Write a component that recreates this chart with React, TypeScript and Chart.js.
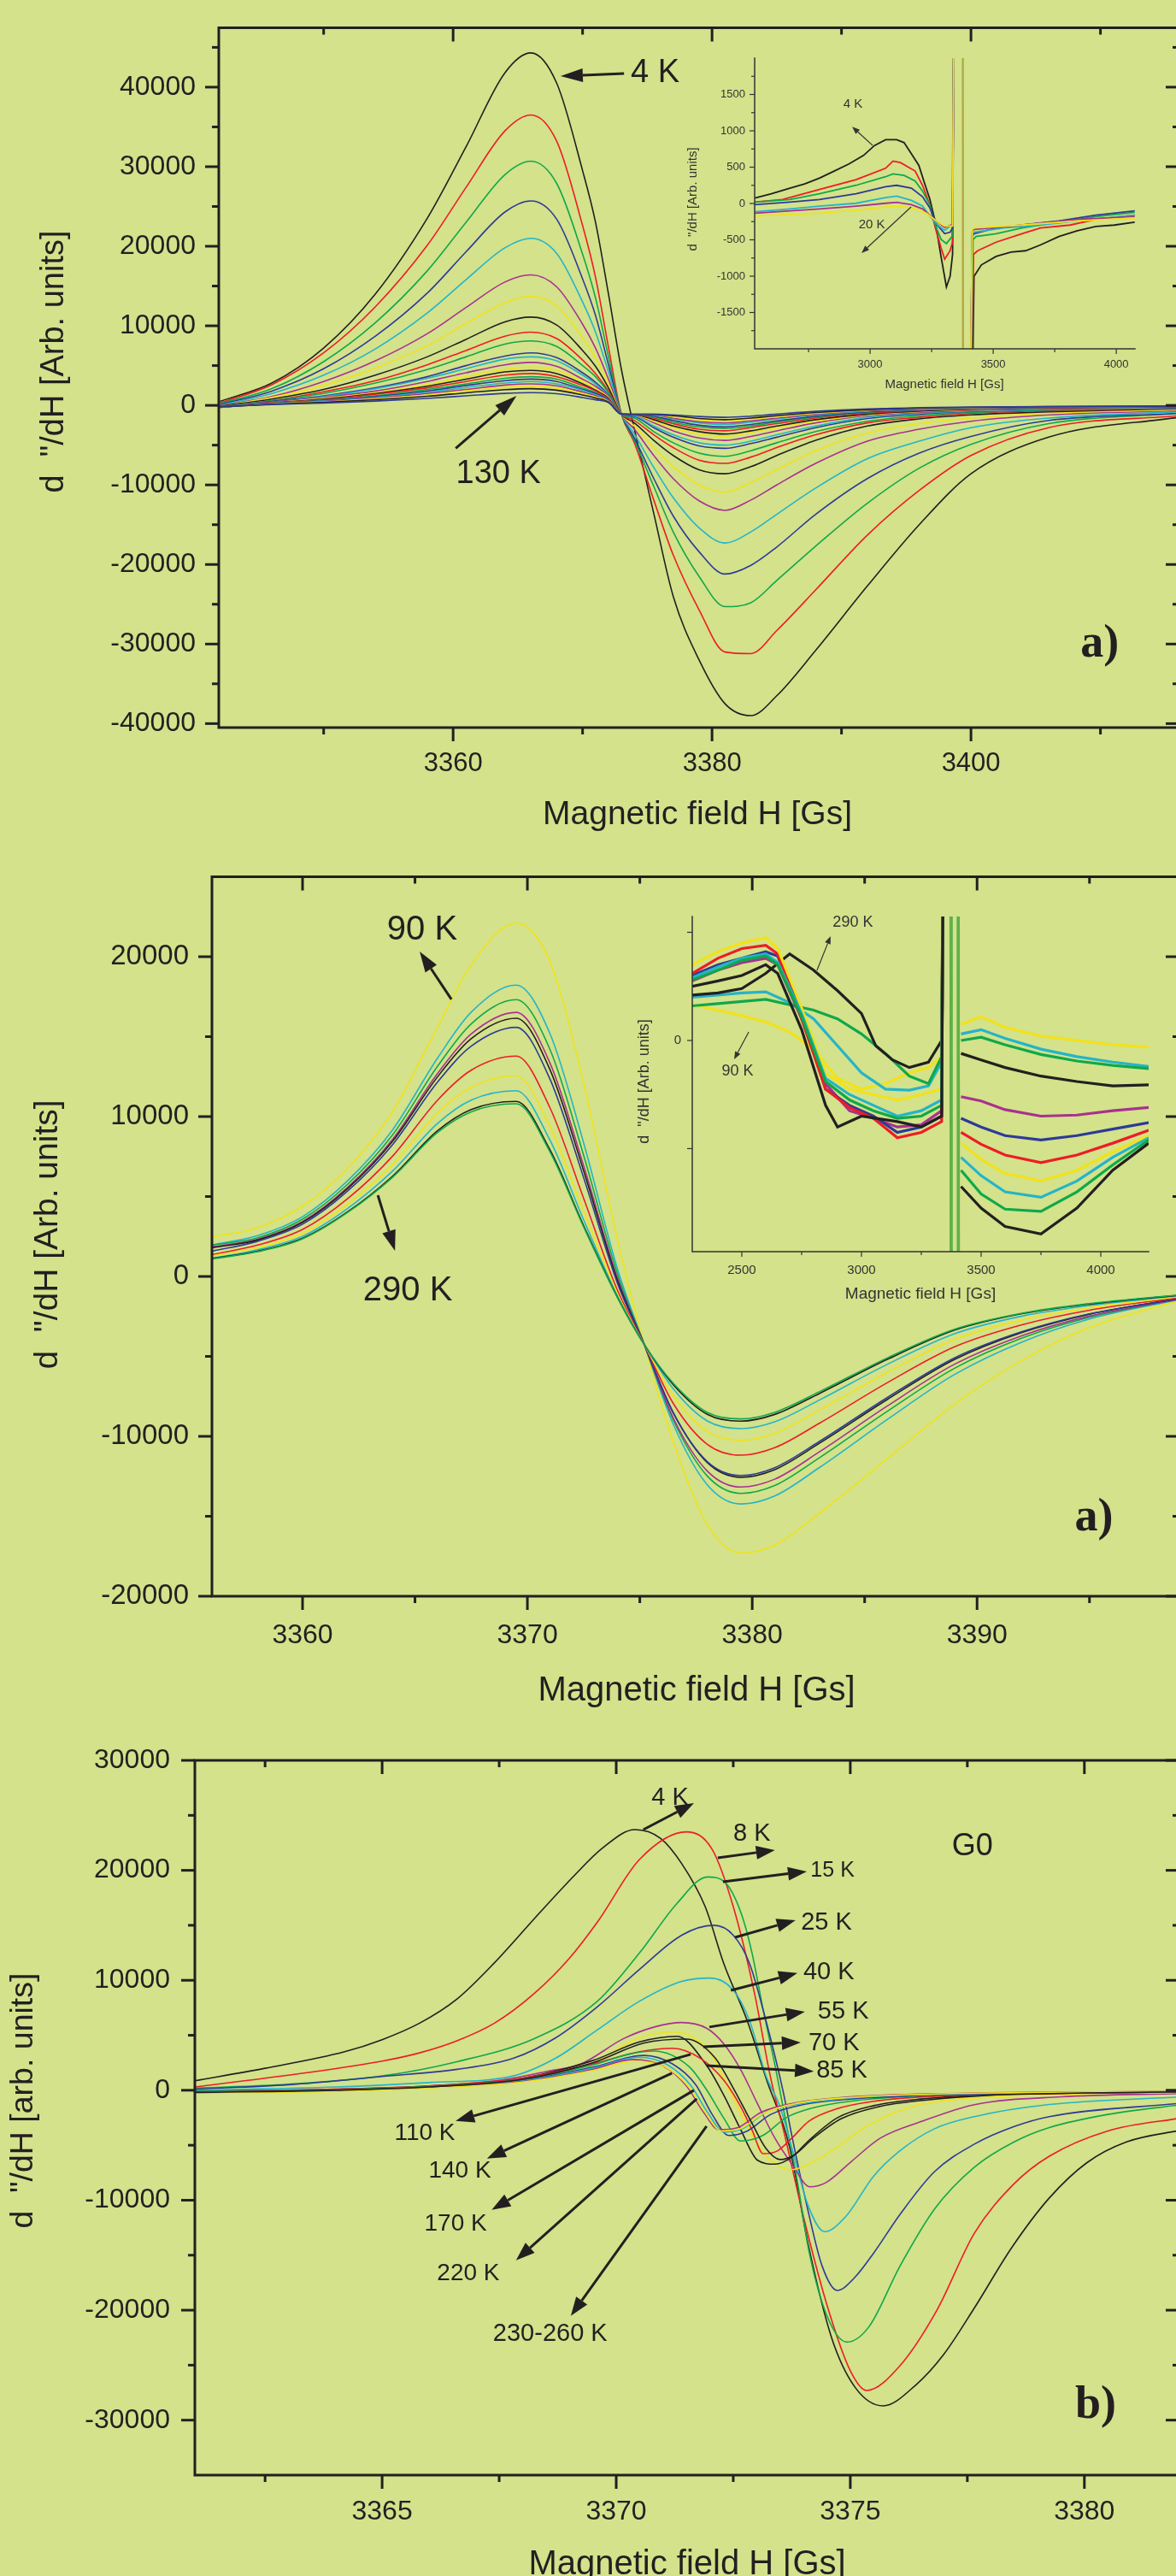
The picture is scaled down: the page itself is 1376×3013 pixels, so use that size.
import React, { useEffect, useRef } from 'react';
import { Chart, registerables } from 'chart.js';
Chart.register(...registerables);

type Pt = [number, number | null];

// ---------------- Panel 1 (a, upper) : shared field grid + 23 spectra 4 K ... 130 K
const X1 = [3342, 3346, 3350, 3354, 3358, 3361, 3364, 3366, 3368, 3370, 3371, 3372, 3373, 3374, 3375.5, 3377, 3379, 3381, 3383, 3385, 3388, 3392, 3396, 3400, 3406, 3416];
const a1_c01 = [500, 2800, 7200, 14000, 23500, 32500, 41800, 44300, 40500, 29500, 23000, 14000, 4500, -3000, -13600, -24000, -32000, -37500, -39000, -36500, -30800, -22700, -15000, -8600, -4000, -1500];
const a1_c02 = [300, 2600, 6600, 12400, 20100, 27400, 34500, 36500, 33200, 22600, 16100, 7300, -1100, -4700, -11900, -18800, -25700, -31000, -31200, -28300, -23200, -16300, -10700, -6300, -2800, -1300];
const a1_c03 = [200, 2100, 5500, 10400, 16900, 23000, 29000, 30700, 27900, 19000, 13500, 6100, -1100, -4400, -10200, -15900, -21500, -25300, -24800, -22000, -17700, -12300, -7900, -4900, -2300, -1000];
const a1_c04 = [100, 1800, 4600, 8700, 14100, 19300, 24300, 25700, 23400, 15900, 11300, 5100, -1100, -4100, -9200, -13900, -18400, -21200, -20100, -17800, -13700, -9200, -6000, -3900, -1900, -1000];
const a1_c05 = [0, 1500, 3800, 7100, 11600, 15800, 19800, 21000, 19100, 13000, 9200, 4200, -1100, -3600, -7800, -11600, -15400, -17300, -15900, -13700, -10400, -6700, -4500, -2800, -1600, -800];
const a1_c06 = [-50, 1100, 3000, 5600, 9000, 12300, 15500, 16400, 14900, 10200, 7200, 3300, -1100, -3000, -6300, -9200, -12000, -13200, -11900, -10000, -7300, -4500, -3000, -2000, -1200, -660];
const a1_c07 = [-100, 1000, 2500, 4700, 7500, 10300, 12900, 13700, 12500, 8500, 6000, 2700, -1100, -2600, -5300, -7700, -10000, -10900, -9700, -8100, -5700, -3500, -2300, -1600, -1000, -550];
const a1_c08 = [-100, 800, 2000, 3800, 6100, 8300, 10500, 11100, 10100, 6900, 4900, 2200, -1100, -2200, -4400, -6300, -8100, -8600, -7700, -6300, -4400, -2600, -1700, -1200, -800, -440];
const a1_c09 = [-150, 600, 1700, 3100, 5100, 6900, 8700, 9200, 8400, 5700, 4000, 1800, -1100, -1900, -3700, -5300, -6900, -7300, -6500, -5300, -3700, -2200, -1500, -1000, -670, -370];
const a1_c10 = [-150, 600, 1500, 2800, 4500, 6100, 7700, 8100, 7400, 5000, 3600, 1600, -1100, -1600, -3300, -4700, -6000, -6400, -5700, -4700, -3300, -2000, -1300, -900, -590, -330];
const a1_c11 = [-200, 500, 1200, 2200, 3600, 5000, 6200, 6600, 6000, 4100, 2900, 1300, -1100, -1400, -2800, -4000, -5100, -5400, -4800, -4000, -2800, -1650, -1100, -770, -500, -280];
const a1_c12 = [-200, 400, 1100, 2100, 3400, 4600, 5800, 6100, 5600, 3800, 2700, 1200, -1100, -1300, -2600, -3700, -4700, -5000, -4500, -3700, -2600, -1500, -1000, -710, -460, -260];
const a1_c13 = [-200, 400, 1000, 1800, 3000, 4100, 5100, 5400, 4900, 3300, 2400, 1100, -1100, -1200, -2200, -3200, -4100, -4400, -3900, -3200, -2200, -1300, -880, -620, -400, -220];
const a1_c14 = [-250, 300, 900, 1600, 2600, 3600, 4500, 4800, 4400, 3000, 2100, 1000, -1100, -1150, -2000, -2800, -3600, -3900, -3400, -2800, -2000, -1200, -780, -550, -350, -200];
const a1_c15 = [-250, 300, 800, 1500, 2400, 3300, 4200, 4400, 4000, 2700, 1900, 900, -1100, -1150, -1800, -2600, -3300, -3600, -3200, -2600, -1800, -1100, -720, -500, -320, -180];
const a1_c16 = [-250, 300, 700, 1400, 2200, 3000, 3800, 4000, 3600, 2500, 1800, 800, -1100, -1150, -1600, -2300, -3000, -3200, -2800, -2300, -1600, -960, -640, -450, -290, -160];
const a1_c17 = [-250, 250, 650, 1200, 2000, 2700, 3400, 3600, 3300, 2200, 1600, 700, -1100, -1150, -1450, -2100, -2700, -2900, -2600, -2100, -1450, -870, -580, -410, -260, -150];
const a1_c18 = [-200, 230, 600, 1100, 1800, 2500, 3100, 3300, 3000, 2000, 1500, 660, -1100, -1150, -1350, -1900, -2500, -2700, -2400, -1950, -1350, -810, -540, -380, -240, -140];
const a1_c19 = [-200, 210, 540, 1000, 1650, 2250, 2800, 3000, 2700, 1900, 1300, 600, -1100, -1150, -1250, -1700, -2200, -2400, -2100, -1700, -1200, -720, -480, -340, -220, -120];
const a1_c20 = [-200, 190, 490, 920, 1500, 2000, 2550, 2700, 2460, 1670, 1200, 540, -1100, -1150, -1200, -1600, -2050, -2200, -1950, -1600, -1100, -660, -440, -310, -200, -110];
const a1_c21 = [-200, 170, 430, 820, 1300, 1800, 2270, 2400, 2180, 1490, 1060, 480, -1100, -1150, -1200, -1450, -1850, -2000, -1750, -1450, -1000, -600, -400, -280, -180, -100];
const a1_c22 = [-200, 150, 380, 710, 1150, 1580, 1980, 2100, 1910, 1300, 920, 420, -1100, -1150, -1150, -1300, -1650, -1800, -1600, -1300, -900, -540, -360, -250, -160, -90];
const a1_c23 = [-150, 110, 290, 540, 880, 1200, 1510, 1600, 1460, 990, 700, 320, -1100, -1100, -1100, -1200, -1400, -1500, -1350, -1100, -750, -450, -300, -210, -140, -80];

// inset of panel 1 (wide sweep, 4 K ... 20 K); null = off-scale gap around the main line
const i1_4K: Pt[] = [[2532, 74], [2599, 133], [2674, 211], [2734, 270], [2794, 348], [2854, 446], [2914, 544], [2973, 661], [3018, 798], [3063, 877], [3108, 877], [3138, 837], [3168, 681], [3198, 524], [3220, 290], [3243, 55], [3265, -258], [3288, -728], [3310, -1150], [3325, -1000], [3335, -700], [3341, 3000], [3380, null], [3414, -3000], [3422, -1003], [3452, -845], [3512, -728], [3572, -669], [3632, -650], [3692, -571], [3767, -454], [3842, -376], [3917, -317], [3992, -297], [4075, -258]];
const i1_r: Pt[] = [[2532, 20], [2644, 55], [2794, 192], [2943, 329], [3063, 485], [3093, 583], [3123, 563], [3183, 446], [3213, 250], [3243, -23], [3265, -336], [3288, -610], [3303, -767], [3325, -650], [3335, -532], [3341, 3000], [3380, null], [3410, -3000], [3420, -700], [3437, -650], [3512, -532], [3617, -415], [3692, -336], [3812, -297], [3917, -219], [4075, -160]];
const i1_g: Pt[] = [[2532, 20], [2674, 55], [2794, 133], [2943, 250], [3063, 368], [3093, 407], [3138, 387], [3183, 309], [3213, 172], [3243, -23], [3265, -297], [3288, -493], [3310, -552], [3333, -454], [3341, 3000], [3380, null], [3408, -3000], [3418, -500], [3430, -454], [3512, -415], [3617, -336], [3767, -258], [3917, -180], [4075, -121]];
const i1_b: Pt[] = [[2532, -16], [2674, 20], [2794, 55], [2943, 133], [3063, 231], [3108, 250], [3168, 211], [3213, 94], [3243, -63], [3273, -297], [3303, -415], [3325, -395], [3335, -336], [3341, 3000], [3380, null], [3406, -3000], [3415, -450], [3422, -415], [3512, -336], [3617, -297], [3767, -239], [3917, -160], [4075, -102]];
const i1_c: Pt[] = [[2532, -114], [2674, -75], [2794, -36], [2943, 3], [3063, 82], [3108, 102], [3168, 43], [3213, -36], [3243, -173], [3273, -290], [3303, -370], [3335, -290], [3341, 3000], [3380, null], [3406, -3000], [3415, -420], [3422, -395], [3542, -336], [3692, -297], [3842, -239], [4075, -160]];
const i1_m: Pt[] = [[2532, -134], [2794, -75], [2943, -36], [3063, 3], [3108, 15], [3168, -16], [3213, -75], [3258, -212], [3303, -329], [3335, -290], [3341, 3000], [3380, null], [3406, -3000], [3415, -380], [3422, -356], [3617, -297], [3842, -219], [4075, -180]];
const i1_20K: Pt[] = [[2532, -173], [2794, -134], [2943, -95], [3063, -48], [3123, -36], [3183, -75], [3228, -134], [3273, -251], [3303, -310], [3335, -310], [3341, 3000], [3380, null], [3406, -3000], [3415, -360], [3422, -336], [3617, -297], [3842, -239], [4075, -200]];
const i1_lineA: Pt[] = [[3375, 3000], [3376, -3000]];
const i1_lineB: Pt[] = [[3378, 3000], [3379, -3000]];

// ---------------- Panel 2 (a, middle) : 90 K ... 290 K
const X2 = [3356, 3358, 3360, 3362, 3364, 3366, 3367.5, 3369.5, 3371, 3372.5, 3374, 3375.2, 3376.5, 3378, 3379.5, 3381, 3383, 3386, 3389, 3392, 3395, 3399];
const a2_c01 = [2480, 3050, 4400, 6750, 10300, 15600, 19500, 22090, 19700, 12100, 2330, -4260, -10400, -15500, -17300, -16800, -14800, -11400, -8000, -5250, -3200, -1500];
const a2_c02 = [1980, 2550, 3740, 5980, 9160, 13650, 16530, 18220, 15200, 8360, 510, -4260, -9280, -13030, -14230, -13730, -11940, -8950, -6130, -4100, -2660, -1440];
const a2_c03 = [1960, 2420, 3580, 5760, 8850, 13140, 15800, 17310, 14210, 7580, 190, -4260, -9010, -12480, -13570, -13080, -11330, -8440, -5740, -3850, -2550, -1420];
const a2_c04 = [1850, 2330, 3440, 5570, 8570, 12690, 15170, 16520, 13360, 6940, -80, -4260, -8890, -12170, -13170, -12680, -10960, -8110, -5490, -3700, -2480, -1420];
const a2_c05 = [1800, 2280, 3380, 5490, 8450, 12480, 14870, 16150, 12950, 6620, -230, -4260, -8550, -11640, -12560, -12080, -10420, -7700, -5190, -3500, -2360, -1370];
const a2_c06 = [1590, 2200, 3270, 5340, 8240, 12150, 14400, 15580, 12360, 6190, -410, -4260, -8580, -11580, -12450, -11960, -10310, -7580, -5090, -3450, -2340, -1380];
const a2_c07 = [1370, 1960, 2940, 4860, 7520, 11020, 12900, 13780, 10560, 4890, -850, -4260, -7970, -10500, -11180, -10710, -9170, -6650, -4400, -3020, -2110, -1320];
const a2_c08 = [1300, 1790, 2700, 4520, 7000, 10220, 11830, 12550, 9390, 4090, -1080, -4260, -7470, -9690, -10250, -9810, -8350, -6000, -3940, -2720, -1950, -1260];
const a2_c09 = [1140, 1670, 2520, 4250, 6580, 9570, 11030, 11620, 8530, 3540, -1210, -4260, -7050, -9040, -9520, -9090, -7720, -5500, -3580, -2480, -1820, -1200];
const a2_c10 = [1140, 1580, 2390, 4040, 6270, 9110, 10440, 10950, 7930, 3180, -1290, -4260, -6790, -8620, -9050, -8630, -7310, -5190, -3360, -2330, -1730, -1170];
const a2_c11 = [1100, 1550, 2350, 4000, 6200, 9000, 10300, 10800, 7800, 3100, -1300, -4260, -6700, -8500, -8910, -8500, -7200, -5100, -3300, -2300, -1700, -1150];

// inset of panel 2 (wide sweep)
const i2_y1: Pt[] = [[2293, 330], [2400, 280], [2500, 230], [2600, 170], [2700, 80], [2800, -80], [2900, -350], [3000, -450], [3100, -400], [3200, -300], [3280, -250], [3335, -150], [3345, 3000], [3380, null], [3416, 150], [3500, 220], [3600, 120], [3750, 40], [3900, 0], [4050, -40], [4200, -60]];
const i2_c1: Pt[] = [[2293, 400], [2400, 420], [2500, 440], [2600, 450], [2700, 350], [2800, 200], [2900, -50], [3000, -300], [3100, -450], [3200, -460], [3280, -420], [3335, -200], [3345, 3000], [3380, null], [3416, 60], [3500, 100], [3600, 20], [3750, -80], [3900, -150], [4050, -200], [4200, -240]];
const i2_g1: Pt[] = [[2293, 320], [2400, 340], [2500, 360], [2600, 380], [2700, 330], [2800, 280], [2900, 200], [3000, 60], [3100, -120], [3200, -330], [3280, -400], [3335, -150], [3345, 3000], [3380, null], [3416, 0], [3500, 30], [3600, -40], [3750, -130], [3900, -190], [4050, -230], [4200, -260]];
const i2_k1: Pt[] = [[2293, 420], [2400, 440], [2500, 480], [2600, 620], [2700, 800], [2800, 650], [2900, 460], [3000, 250], [3060, -50], [3130, -180], [3200, -250], [3280, -200], [3335, 0], [3345, 3000], [3380, null], [3416, -120], [3500, -180], [3600, -250], [3750, -330], [3900, -380], [4050, -420], [4200, -410]];
const i2_m: Pt[] = [[2293, 550], [2400, 650], [2500, 720], [2600, 760], [2650, 700], [2750, 200], [2850, -400], [2950, -650], [3050, -720], [3150, -800], [3250, -780], [3335, -650], [3345, 3000], [3380, null], [3416, -520], [3500, -560], [3600, -640], [3750, -700], [3900, -690], [4050, -650], [4200, -620]];
const i2_b: Pt[] = [[2293, 600], [2400, 700], [2500, 760], [2600, 820], [2650, 780], [2750, 250], [2850, -450], [2950, -600], [3050, -700], [3150, -850], [3250, -800], [3335, -700], [3345, 3000], [3380, null], [3416, -720], [3500, -800], [3600, -880], [3750, -920], [3900, -880], [4050, -820], [4200, -760]];
const i2_r: Pt[] = [[2293, 620], [2400, 760], [2500, 850], [2600, 880], [2650, 800], [2750, 200], [2850, -450], [2950, -620], [3050, -720], [3150, -900], [3250, -850], [3335, -750], [3345, 3000], [3380, null], [3416, -850], [3500, -960], [3600, -1060], [3750, -1130], [3900, -1060], [4050, -950], [4200, -830]];
const i2_y2: Pt[] = [[2293, 700], [2400, 820], [2500, 900], [2600, 950], [2650, 850], [2750, 300], [2850, -300], [2950, -450], [3050, -500], [3150, -550], [3250, -500], [3335, -450], [3345, 3000], [3380, null], [3416, -950], [3500, -1100], [3600, -1230], [3750, -1300], [3900, -1200], [4050, -1030], [4200, -880]];
const i2_c2: Pt[] = [[2293, 580], [2400, 680], [2500, 760], [2600, 800], [2650, 720], [2750, 250], [2850, -350], [2950, -500], [3050, -600], [3150, -700], [3250, -650], [3335, -550], [3345, 3000], [3380, null], [3416, -1080], [3500, -1250], [3600, -1400], [3750, -1450], [3900, -1300], [4050, -1080], [4200, -900]];
const i2_g2: Pt[] = [[2293, 560], [2400, 650], [2500, 740], [2600, 780], [2650, 700], [2750, 220], [2850, -380], [2950, -550], [3050, -650], [3150, -720], [3250, -700], [3335, -600], [3345, 3000], [3380, null], [3416, -1200], [3500, -1420], [3600, -1560], [3750, -1580], [3900, -1400], [4050, -1150], [4200, -920]];
const i2_k2: Pt[] = [[2293, 500], [2400, 550], [2500, 600], [2600, 700], [2650, 620], [2750, 100], [2850, -600], [2900, -800], [3000, -700], [3150, -750], [3250, -800], [3335, -700], [3345, 3000], [3380, null], [3416, -1350], [3500, -1550], [3600, -1720], [3750, -1790], [3900, -1550], [4050, -1200], [4200, -950]];
const i2_lineA: Pt[] = [[3371, 3000], [3372, -3000]];
const i2_lineB: Pt[] = [[3377, 3000], [3378, -3000]];
const i2_lineC: Pt[] = [[3401, 3000], [3402, -3000]];
const i2_lineD: Pt[] = [[3407, 3000], [3408, -3000]];

// ---------------- Panel 3 (b, G0) : 4 K ... 260 K
const b_4K: Pt[] = [[3361, 860], [3362.5, 2000], [3364.2, 3500], [3365, 4600], [3365.8, 6100], [3366.6, 8300], [3367.4, 11600], [3368.25, 15600], [3369.1, 19500], [3369.7, 22000], [3370.4, 23700], [3370.95, 22900], [3371.4, 20600], [3371.9, 16700], [3372.3, 11500], [3372.8, 6300], [3373.2, 1100], [3373.7, -5100], [3374.1, -14000], [3374.6, -22500], [3375.1, -27000], [3375.7, -28700], [3376.4, -26800], [3377, -24000], [3377.65, -19800], [3378.45, -14300], [3379.25, -9800], [3380.05, -6600], [3380.9, -4700], [3382.1, -3600]];
const b_8K: Pt[] = [[3361, 300], [3363.4, 1600], [3365, 2650], [3365.8, 3400], [3366.6, 4500], [3367.4, 6100], [3368.25, 8800], [3369, 12000], [3369.6, 15300], [3370.5, 21000], [3371.5, 23500], [3372.05, 21900], [3372.5, 16700], [3372.95, 8900], [3373.3, 1100], [3373.6, -4100], [3374, -11500], [3374.5, -19500], [3375, -25500], [3375.35, -27300], [3376.05, -25100], [3376.85, -20000], [3377.65, -13000], [3378.5, -8500], [3379.25, -6000], [3380.5, -3700], [3382.1, -2500]];
const b_15K: Pt[] = [[3361, 200], [3363, 550], [3365, 1300], [3366.6, 2600], [3368.25, 4700], [3369.6, 8100], [3370.5, 12500], [3371.3, 17000], [3371.95, 19400], [3372.3, 19000], [3372.66, 16200], [3372.9, 12500], [3373.14, 7300], [3373.4, 2100], [3373.63, -3000], [3373.87, -8300], [3374.12, -14700], [3374.5, -20500], [3374.93, -22900], [3375.4, -21500], [3376.06, -16000], [3376.8, -10800], [3377.65, -7000], [3378.5, -4700], [3379.25, -3400], [3380.5, -2200], [3382.1, -1300]];
const b_25K: Pt[] = [[3361, 100], [3363, 500], [3365, 1250], [3366.6, 1900], [3367.8, 2900], [3368.7, 4750], [3369.6, 7600], [3370.5, 11000], [3371.4, 14100], [3372.08, 15000], [3372.5, 14100], [3372.85, 11500], [3373.2, 6300], [3373.57, -200], [3373.75, -4100], [3374.1, -11000], [3374.4, -16000], [3374.72, -18200], [3375.1, -17000], [3375.5, -14800], [3376.06, -11300], [3376.8, -7400], [3377.65, -4900], [3378.5, -3300], [3379.25, -2400], [3382.1, -1170]];
const b_40K: Pt[] = [[3361, 0], [3364, 300], [3366, 700], [3367.8, 1300], [3368.7, 2900], [3369.6, 5500], [3370.5, 8100], [3371.4, 9900], [3372, 10200], [3372.5, 9100], [3372.85, 6300], [3373.2, 1300], [3373.5, -1500], [3373.8, -6000], [3374.1, -10500], [3374.45, -12860], [3374.9, -11500], [3375.5, -7800], [3376.06, -5500], [3376.8, -3500], [3377.65, -2400], [3379.25, -1300], [3382.1, -600]];
const b_55K: Pt[] = [[3361, -100], [3364, 100], [3366, 400], [3367.5, 900], [3368.5, 1700], [3369.25, 2400], [3370.16, 4700], [3370.83, 5770], [3371.4, 6160], [3371.93, 5640], [3372.3, 4210], [3372.66, 1870], [3373.02, -1250], [3373.39, -4360], [3373.75, -6700], [3374.14, -8780], [3374.48, -8400], [3375.03, -6450], [3375.64, -4360], [3376.55, -2800], [3377.65, -1310], [3379.5, -600], [3382.1, -300]];
const b_70K: Pt[] = [[3361, -150], [3364, 0], [3366, 300], [3368, 1000], [3369.5, 2500], [3370.47, 4730], [3371.2, 5300], [3371.68, 4730], [3372.05, 3170], [3372.41, 50], [3372.78, -3060], [3373.14, -5670], [3373.5, -6960], [3373.75, -7220], [3374.12, -6700], [3374.73, -5140], [3375.33, -3330], [3375.94, -2030], [3376.55, -1250], [3378, -600], [3380, -300], [3382.1, -200]];
const b_85K: Pt[] = [[3361, -150], [3364, 50], [3366, 350], [3368, 1100], [3369.5, 2700], [3370.5, 4400], [3371.3, 4910], [3371.93, 2260], [3372.3, -470], [3372.66, -3590], [3373.02, -6370], [3373.39, -6720], [3373.75, -6080], [3374.12, -4540], [3374.73, -2490], [3375.5, -1400], [3376.5, -800], [3378, -400], [3380, -250], [3382.1, -150]];
const b_110K: Pt[] = [[3361, -100], [3364, 100], [3366, 400], [3368, 1100], [3369.5, 2400], [3370.5, 3500], [3371.2, 3820], [3371.8, 2900], [3372.3, 900], [3372.66, -1500], [3372.9, -3600], [3373.14, -5770], [3373.45, -5500], [3373.75, -4360], [3374.12, -2800], [3374.7, -1700], [3375.5, -1000], [3377, -500], [3379, -300], [3382.1, -150]];
const b_140K: Pt[] = [[3361, -100], [3364, 50], [3366, 350], [3368, 1000], [3369.5, 2300], [3370.3, 3300], [3370.8, 3560], [3371.56, 2130], [3371.93, 50], [3372.3, -2550], [3372.66, -4620], [3373.14, -4100], [3373.63, -2490], [3374.2, -1600], [3375, -1000], [3376.5, -500], [3379, -250], [3382.1, -120]];
const b_170K: Pt[] = [[3361, -150], [3364, 0], [3366, 300], [3368, 900], [3369.5, 2100], [3370.59, 3170], [3371.2, 2400], [3371.7, 500], [3372.05, -2200], [3372.41, -4110], [3372.8, -3700], [3373.3, -2200], [3374, -1300], [3375, -800], [3377, -400], [3382.1, -100]];
const b_220K: Pt[] = [[3361, -200], [3364, -50], [3366, 250], [3368, 850], [3369.5, 2000], [3370.47, 3000], [3371.1, 2300], [3371.6, 400], [3371.95, -2000], [3372.3, -3800], [3372.7, -3500], [3373.2, -2000], [3374, -1200], [3375, -700], [3377, -350], [3382.1, -100]];
const b_230K: Pt[] = [[3361, -200], [3364, -50], [3366, 250], [3368, 800], [3369.5, 1900], [3370.35, 2800], [3371, 2200], [3371.5, 400], [3371.85, -1900], [3372.2, -3600], [3372.6, -3400], [3373.1, -2000], [3373.9, -1100], [3375, -600], [3377, -300], [3382.1, -100]];
const b_240K: Pt[] = [[3361, -250], [3364, -100], [3366, 200], [3368, 750], [3369.5, 1800], [3370.4, 2650], [3371.05, 2100], [3371.55, 300], [3371.9, -2000], [3372.25, -3700], [3372.65, -3500], [3373.15, -2100], [3373.9, -1150], [3375, -650], [3377, -320], [3382.1, -100]];
const b_260K: Pt[] = [[3361, -200], [3364, 0], [3366, 300], [3368, 1000], [3369.5, 2500], [3370.6, 4300], [3371.5, 4650], [3372.1, 3000], [3372.5, 200], [3372.9, -3000], [3373.2, -5300], [3373.5, -6300], [3373.8, -5900], [3374.2, -4400], [3374.8, -2600], [3375.6, -1500], [3376.6, -900], [3378, -450], [3380, -250], [3382.1, -150]];

// ---------------- styling
const SANS = '"Liberation Sans", Arial, Helvetica, sans-serif';
const SERIF = '"Liberation Serif", "Times New Roman", serif';
const INK = '#231F20';
const BG = '#D3E28B';
const K = '#231F20', R = '#EE1C25', G = '#10A84A', B = '#2E3A97', C = '#25B4C8', M = '#A8318F', Y = '#F2E21B';
const ORANGE = '#E0963A', OLIVE = '#8DBA4A', LGREEN = '#5DB04A';

type Note = { text: string; x: number; y: number; size: number; serif?: boolean; bold?: boolean };
type Arrow = { x1: number; y1: number; x2: number; y2: number };
type Title = { text: string; size: number; x: number; y: number };
type Deco = {
  boxed: boolean; color: string; lineW: number; tickW: number; majorLen: number; minorLen: number;
  xMajor: number[]; xMinor: number[]; yMajor: number[]; yMinor: number[]; yLabeled?: number[];
  xLabelSize: number; xLabelDy: number; yLabelSize: number; yLabelDx: number;
  xTitle: Title; yTitle: Title; notes: Note[]; arrows: Arrow[]; head: number; half: number; arrowW: number;
};

function drawArrow(ctx: CanvasRenderingContext2D, x1: number, y1: number, x2: number, y2: number, head: number, half: number, w: number) {
  const ang = Math.atan2(y2 - y1, x2 - x1);
  const bx = x2 - head * Math.cos(ang), by = y2 - head * Math.sin(ang);
  ctx.lineWidth = w;
  ctx.beginPath(); ctx.moveTo(x1, y1); ctx.lineTo(bx, by); ctx.stroke();
  ctx.beginPath();
  ctx.moveTo(x2, y2);
  ctx.lineTo(bx + half * Math.sin(ang), by - half * Math.cos(ang));
  ctx.lineTo(bx - half * Math.sin(ang), by + half * Math.cos(ang));
  ctx.closePath(); ctx.fill();
}

function decoPlugin(d: Deco) {
  return {
    id: 'deco',
    afterDatasetsDraw(chart: any) {
      const ctx = chart.ctx as CanvasRenderingContext2D;
      const a = chart.chartArea;
      const px = (v: number) => chart.scales.x.getPixelForValue(v);
      const py = (v: number) => chart.scales.y.getPixelForValue(v);
      ctx.save();
      ctx.strokeStyle = d.color; ctx.fillStyle = d.color; ctx.lineWidth = d.lineW;
      if (d.boxed) {
        ctx.strokeRect(a.left, a.top, a.right - a.left, a.bottom - a.top);
      } else {
        ctx.lineCap = 'square';
        ctx.beginPath(); ctx.moveTo(a.left, a.top); ctx.lineTo(a.left, a.bottom); ctx.lineTo(a.right, a.bottom); ctx.stroke();
      }
      ctx.lineCap = 'butt';
      ctx.lineWidth = d.tickW;
      const seg = (x1: number, y1: number, x2: number, y2: number) => { ctx.beginPath(); ctx.moveTo(x1, y1); ctx.lineTo(x2, y2); ctx.stroke(); };
      const xt = (vals: number[], len: number) => vals.forEach(v => { const p = px(v); seg(p, a.bottom, p, a.bottom + len); if (d.boxed) seg(p, a.top, p, a.top + len); });
      const yt = (vals: number[], len: number) => vals.forEach(v => { const p = py(v); seg(a.left, p, a.left - len, p); if (d.boxed) seg(a.right, p, a.right - len, p); });
      xt(d.xMajor, d.majorLen); xt(d.xMinor, d.minorLen); yt(d.yMajor, d.majorLen); yt(d.yMinor, d.minorLen);
      ctx.textBaseline = 'middle';
      ctx.textAlign = 'center'; ctx.font = `${d.xLabelSize}px ${SANS}`;
      d.xMajor.forEach(v => ctx.fillText(String(v), px(v), a.bottom + d.xLabelDy));
      ctx.textAlign = 'right'; ctx.font = `${d.yLabelSize}px ${SANS}`;
      (d.yLabeled ?? d.yMajor).forEach(v => ctx.fillText(String(v), a.left - d.yLabelDx, py(v)));
      ctx.textAlign = 'center';
      ctx.font = `${d.xTitle.size}px ${SANS}`;
      ctx.fillText(d.xTitle.text, d.xTitle.x, d.xTitle.y);
      ctx.save();
      ctx.translate(d.yTitle.x, d.yTitle.y); ctx.rotate(-Math.PI / 2);
      ctx.font = `${d.yTitle.size}px ${SANS}`;
      ctx.fillText(d.yTitle.text, 0, 0);
      ctx.restore();
      d.notes.forEach(n => {
        ctx.font = `${n.bold ? 'bold ' : ''}${n.size}px ${n.serif ? SERIF : SANS}`;
        ctx.fillText(n.text, px(n.x), py(n.y));
      });
      d.arrows.forEach(r => drawArrow(ctx, px(r.x1), py(r.y1), px(r.x2), py(r.y2), d.head, d.half, d.arrowW));
      ctx.restore();
    },
  };
}

type Series = { color: string; pts: { x: number; y: number | null }[]; w?: number };
type Spec = {
  left: number; top: number; width: number; height: number;
  pad: { left: number; top: number; right: number; bottom: number };
  x: [number, number]; y: [number, number];
  series: Series[];
  lineW: number; smooth: boolean; deco: Deco;
};

const fromGrid = (xs: number[], ys: number[]) => xs.map((x, i) => ({ x, y: ys[i] }));
const fromPairs = (p: Pt[]) => p.map(([x, y]) => ({ x, y }));

function ChartBox({ spec }: { spec: Spec }) {
  const ref = useRef<HTMLCanvasElement>(null);
  useEffect(() => {
    const n = spec.series.length;
    const chart = new Chart(ref.current as HTMLCanvasElement, {
      type: 'line',
      data: {
        datasets: spec.series.map((s, i) => ({
          data: s.pts, borderColor: s.color, borderWidth: s.w ?? spec.lineW, pointRadius: 0, fill: false,
          cubicInterpolationMode: spec.smooth ? 'monotone' : 'default', tension: 0, clip: 0, order: n - i,
          spanGaps: false,
        })) as any,
      },
      options: {
        responsive: false, maintainAspectRatio: false, animation: false, devicePixelRatio: 1,
        layout: { padding: spec.pad },
        events: [],
        scales: {
          x: { type: 'linear', min: spec.x[0], max: spec.x[1], display: false },
          y: { type: 'linear', min: spec.y[0], max: spec.y[1], display: false },
        },
        plugins: { legend: { display: false }, tooltip: { enabled: false } },
      } as any,
      plugins: [decoPlugin(spec.deco) as any],
    });
    return () => chart.destroy();
  }, []);
  return (
    <canvas ref={ref} width={spec.width} height={spec.height}
      style={{ position: 'absolute', left: spec.left, top: spec.top, width: spec.width, height: spec.height }} />
  );
}

const cyc = [K, R, G, B, C, M, Y];
const P1_SETS = [a1_c01, a1_c02, a1_c03, a1_c04, a1_c05, a1_c06, a1_c07, a1_c08, a1_c09, a1_c10, a1_c11, a1_c12, a1_c13, a1_c14, a1_c15, a1_c16, a1_c17, a1_c18, a1_c19, a1_c20, a1_c21, a1_c22, a1_c23];
const P2_SETS = [a2_c01, a2_c02, a2_c03, a2_c04, a2_c05, a2_c06, a2_c07, a2_c08, a2_c09, a2_c10, a2_c11];
const P2_COLORS = [Y, C, G, M, K, B, R, Y, C, K, G];

const mainDeco = (o: Partial<Deco>): Deco => ({
  boxed: true, color: INK, lineW: 3, tickW: 3, majorLen: 16, minorLen: 8,
  xMajor: [], xMinor: [], yMajor: [], yMinor: [], xLabelSize: 32, xLabelDy: 42, yLabelSize: 32, yLabelDx: 27,
  xTitle: { text: 'Magnetic field H [Gs]', size: 39, x: 0, y: 0 }, yTitle: { text: 'd  "/dH [Arb. units]', size: 38, x: 0, y: 0 },
  notes: [], arrows: [], head: 24, half: 8, arrowW: 3, ...o,
});
const insetDeco = (o: Partial<Deco>): Deco => ({
  boxed: false, color: '#333333', lineW: 1.5, tickW: 1.2, majorLen: 6, minorLen: 4,
  xMajor: [], xMinor: [], yMajor: [], yMinor: [], xLabelSize: 13, xLabelDy: 18, yLabelSize: 13, yLabelDx: 11,
  xTitle: { text: 'Magnetic field H [Gs]', size: 15, x: 0, y: 0 }, yTitle: { text: 'd  "/dH [Arb. units]', size: 15, x: 0, y: 0 },
  notes: [], arrows: [], head: 9, half: 3.5, arrowW: 1.2, ...o,
});

const spec1: Spec = {
  left: 0, top: 0, width: 1400, height: 1000,
  pad: { left: 256, top: 32.5, right: 20, bottom: 149 },
  x: [3341.9, 3416.1], y: [-40500, 47460],
  series: P1_SETS.map((v, i) => ({ color: i === 22 ? B : cyc[i % 7], pts: fromGrid(X1, v) })),
  lineW: 1.6, smooth: true,
  deco: mainDeco({
    xMajor: [3360, 3380, 3400], xMinor: [3350, 3370, 3390, 3410],
    yMajor: [-40000, -30000, -20000, -10000, 0, 10000, 20000, 30000, 40000],
    yMinor: [-35000, -25000, -15000, -5000, 5000, 15000, 25000, 35000, 45000],
    xLabelSize: 31, xLabelDy: 42, yLabelSize: 32, yLabelDx: 27,
    xTitle: { text: 'Magnetic field H [Gs]', size: 39, x: 816, y: 953 },
    yTitle: { text: 'd  "/dH [Arb. units]', size: 38, x: 64, y: 423 },
    notes: [
      { text: '4 K', x: 3375.6, y: 41720, size: 38 },
      { text: '130 K', x: 3363.5, y: -8620, size: 38 },
      { text: 'a)', x: 3409.95, y: -30040, size: 54, serif: true, bold: true },
    ],
    arrows: [
      { x1: 3373.2, y1: 41720, x2: 3368.3, y2: 41390 },
      { x1: 3360.2, y1: -5400, x2: 3364.9, y2: 1200 },
    ],
    head: 26, half: 8,
  }),
};

const inset1: Spec = {
  left: 780, top: 50, width: 570, height: 420,
  pad: { left: 103, top: 18, right: 22, bottom: 62 },
  x: [2531, 4076], y: [-2000, 2000],
  series: [
    ...[i1_4K, i1_r, i1_g, i1_b, i1_c, i1_m, i1_20K].map((p, i) => ({ color: cyc[i], pts: fromPairs(p) })),
    { color: ORANGE, pts: fromPairs(i1_lineA), w: 1.5 },
    { color: OLIVE, pts: fromPairs(i1_lineB), w: 1.5 },
  ],
  lineW: 1.8, smooth: false,
  deco: insetDeco({
    xMajor: [3000, 3500, 4000], xMinor: [2750, 3250, 3750],
    yMajor: [-1500, -1000, -500, 0, 500, 1000, 1500], yMinor: [-1750, -1250, -750, -250, 250, 750, 1250, 1750],
    xTitle: { text: 'Magnetic field H [Gs]', size: 15, x: 325, y: 400 },
    yTitle: { text: 'd  "/dH [Arb. units]', size: 15, x: 31, y: 183 },
    notes: [
      { text: '4 K', x: 2930.6, y: 1362, size: 15 },
      { text: '20 K', x: 3007, y: -294, size: 15 },
    ],
    arrows: [
      { x1: 3010.4, y1: 798, x2: 2927, y2: 1057 },
      { x1: 3166.7, y1: -47, x2: 2965.3, y2: -681 },
    ],
  }),
};

const spec2: Spec = {
  left: 0, top: 1000, width: 1400, height: 1030,
  pad: { left: 248, top: 25.5, right: 20, bottom: 163 },
  x: [3355.97, 3399.0], y: [-20000, 25000],
  series: P2_SETS.map((v, i) => ({ color: P2_COLORS[i], pts: fromGrid(X2, v) })),
  lineW: 1.6, smooth: true,
  deco: mainDeco({
    xMajor: [3360, 3370, 3380, 3390], xMinor: [3365, 3375, 3385, 3395],
    yMajor: [-20000, -10000, 0, 10000, 20000], yMinor: [-15000, -5000, 5000, 15000],
    xLabelSize: 32, xLabelDy: 46, yLabelSize: 33, yLabelDx: 27,
    xTitle: { text: 'Magnetic field H [Gs]', size: 40, x: 815, y: 978 },
    yTitle: { text: 'd  "/dH [Arb. units]', size: 39, x: 56, y: 444 },
    notes: [
      { text: '90 K', x: 3365.32, y: 21660, size: 40 },
      { text: '290 K', x: 3364.68, y: -910, size: 40 },
      { text: 'a)', x: 3395.2, y: -15130, size: 54, serif: true, bold: true },
    ],
    arrows: [
      { x1: 3366.62, y1: 17330, x2: 3365.21, y2: 20320 },
      { x1: 3363.35, y1: 5080, x2: 3364.11, y2: 1600 },
    ],
  }),
};

const inset2: Spec = {
  left: 700, top: 1050, width: 660, height: 500,
  pad: { left: 110, top: 22, right: 16, bottom: 86 },
  x: [2293, 4200], y: [-1953, 1146],
  series: [
    ...[
      [Y, i2_y1], [C, i2_c1], [G, i2_g1], [K, i2_k1], [M, i2_m], [B, i2_b], [R, i2_r], [Y, i2_y2], [C, i2_c2], [G, i2_g2], [K, i2_k2],
    ].map(([c, p]) => ({ color: c as string, pts: fromPairs(p as Pt[]) })),
    ...[i2_lineA, i2_lineB, i2_lineC, i2_lineD].map(p => ({ color: LGREEN, pts: fromPairs(p), w: 2 })),
  ],
  lineW: 3.2, smooth: false,
  deco: insetDeco({
    xMajor: [2500, 3000, 3500, 4000], xMinor: [2750, 3250, 3750],
    yMajor: [-1000, 0, 1000], yMinor: [], yLabeled: [0],
    xLabelSize: 15, xLabelDy: 22, yLabelSize: 15, yLabelDx: 13,
    xTitle: { text: 'Magnetic field H [Gs]', size: 19, x: 377, y: 464 },
    yTitle: { text: 'd  "/dH [Arb. units]', size: 18, x: 54, y: 215 },
    notes: [
      { text: '290 K', x: 2964, y: 1091, size: 18 },
      { text: '90 K', x: 2482, y: -285, size: 18 },
    ],
    arrows: [
      { x1: 2814, y1: 648, x2: 2871, y2: 964 },
      { x1: 2529, y1: 79, x2: 2468, y2: -174 },
    ],
  }),
};

const P3_SETS: [string, Pt[]][] = [
  [K, b_4K], [R, b_8K], [G, b_15K], [B, b_25K], [C, b_40K], [M, b_55K], [Y, b_70K], [K, b_85K],
  [R, b_110K], [G, b_140K], [B, b_170K], [C, b_220K], [M, b_230K], [Y, b_240K], [K, b_260K],
];

const spec3: Spec = {
  left: 0, top: 2030, width: 1400, height: 983,
  pad: { left: 228, top: 29, right: 20, bottom: 118 },
  x: [3361.0, 3382.03], y: [-35000, 30000],
  series: P3_SETS.map(([c, p]) => ({ color: c, pts: fromPairs(p) })),
  lineW: 1.6, smooth: true,
  deco: mainDeco({
    xMajor: [3365, 3370, 3375, 3380], xMinor: [3362.5, 3367.5, 3372.5, 3377.5],
    yMajor: [-30000, -20000, -10000, 0, 10000, 20000, 30000], yMinor: [-25000, -15000, -5000, 5000, 15000, 25000],
    xLabelSize: 32, xLabelDy: 43, yLabelSize: 32, yLabelDx: 29,
    xTitle: { text: 'Magnetic field H [Gs]', size: 40, x: 804, y: 970 },
    yTitle: { text: 'd  "/dH [arb. units]', size: 37.5, x: 28, y: 427 },
    notes: [
      { text: '4 K', x: 3371.15, y: 26580, size: 29 },
      { text: '8 K', x: 3372.9, y: 23320, size: 29 },
      { text: '15 K', x: 3374.62, y: 19970, size: 25 },
      { text: '25 K', x: 3374.49, y: 15230, size: 29 },
      { text: '40 K', x: 3374.54, y: 10730, size: 29 },
      { text: '55 K', x: 3374.85, y: 7150, size: 29 },
      { text: '70 K', x: 3374.65, y: 4270, size: 29 },
      { text: '85 K', x: 3374.82, y: 1790, size: 29 },
      { text: 'G0', x: 3377.61, y: 22150, size: 36 },
      { text: '110 K', x: 3365.91, y: -3960, size: 28 },
      { text: '140 K', x: 3366.66, y: -7310, size: 28 },
      { text: '170 K', x: 3366.57, y: -12200, size: 28 },
      { text: '220 K', x: 3366.84, y: -16710, size: 28 },
      { text: '230-260 K', x: 3368.59, y: -22150, size: 29 },
      { text: 'b)', x: 3380.24, y: -28680, size: 54, serif: true, bold: true },
    ],
    arrows: [
      { x1: 3370.58, y1: 23700, x2: 3371.66, y2: 26110 },
      { x1: 3372.17, y1: 21140, x2: 3373.39, y2: 21840 },
      { x1: 3372.28, y1: 18960, x2: 3374.07, y2: 19900 },
      { x1: 3372.54, y1: 13910, x2: 3373.83, y2: 15470 },
      { x1: 3372.45, y1: 9090, x2: 3373.87, y2: 10650 },
      { x1: 3371.99, y1: 5750, x2: 3374.03, y2: 7150 },
      { x1: 3371.86, y1: 3960, x2: 3373.94, y2: 4350 },
      { x1: 3371.93, y1: 2250, x2: 3374.22, y2: 1710 },
      { x1: 3371.59, y1: 3260, x2: 3366.57, y2: -2800 },
      { x1: 3371.19, y1: 1550, x2: 3367.24, y2: -6220 },
      { x1: 3371.66, y1: 0, x2: 3367.34, y2: -10880 },
      { x1: 3371.72, y1: -780, x2: 3367.86, y2: -15470 },
      { x1: 3371.93, y1: -3260, x2: 3369.03, y2: -20520 },
    ],
    head: 22, half: 8,
  }),
};

export default function App() {
  return (
    <div style={{ position: 'absolute', left: 0, top: 0, width: 1376, height: 3013, overflow: 'hidden', background: BG }}>
      <ChartBox spec={spec1} />
      <ChartBox spec={inset1} />
      <ChartBox spec={spec2} />
      <ChartBox spec={inset2} />
      <ChartBox spec={spec3} />
    </div>
  );
}
